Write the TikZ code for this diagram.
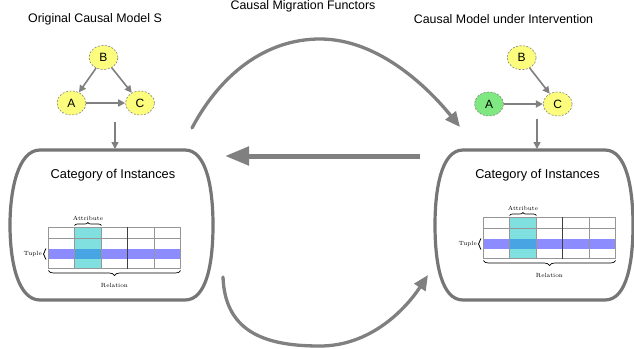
\documentclass[tikz,border=0pt]{standalone}
\usepackage{fontspec}
\newfontfamily\hv{Liberation Sans}
\usetikzlibrary{arrows.meta,decorations.pathreplacing,shapes.geometric}
\definecolor{nodeyellow}{RGB}{252,252,125}
\definecolor{nodegreen}{RGB}{128,232,128}
\definecolor{arrgray}{RGB}{128,128,128}
\definecolor{boxgray}{RGB}{118,118,118}
\definecolor{gridgray}{RGB}{150,150,150}
\definecolor{attrcyan}{RGB}{128,224,224}
\definecolor{tupleblue}{RGB}{140,140,255}
\definecolor{overlapblue}{RGB}{72,164,226}
\tikzset{
  varnode/.style={ellipse,draw=arrgray,dash pattern=on 2pt off 1.5pt,line width=0.6pt,
    minimum width=29pt,minimum height=24pt,inner sep=0pt,font=\hv\fontsize{12}{14}\selectfont},
  edgearrow/.style={draw=arrgray,line width=1.6pt,-{Triangle[length=7pt,width=7pt]}},
  functor/.style={draw=arrgray,line width=3.3pt,line cap=round,-{Triangle[length=15pt,width=13pt]}},
  bigfunctor/.style={draw=arrgray,line width=5pt,-{Triangle[length=24pt,width=18pt]}},
  titletext/.style={font=\hv\fontsize{12.4}{14}\selectfont,inner sep=0pt},
  cattext/.style={font=\hv\fontsize{12.8}{15}\selectfont,inner sep=0pt},
  smalllabel/.style={font=\fontsize{6}{7}\selectfont,inner sep=0pt},
  catbox/.style={draw=boxgray,line width=3.2pt},
  bracestyle/.style={draw=black,line width=0.7pt,decorate,decoration={brace,amplitude=3pt}}
}
\newcommand{\relationtable}[3]{%
  \begin{scope}[shift={(#1,#2)}]
    \fill[attrcyan] (74.3,227.3) rectangle (101.5,268.5);
    \fill[tupleblue] (48.3,248.8) rectangle (180.7,259);
    \fill[overlapblue] (74.3,248.8) rectangle (101.5,259);
    \draw[gridgray,line width=0.6pt] (48.3,227.3) -- (180.7,227.3)
      (48.3,238.3) -- (180.7,238.3) (48.3,268.5) -- (180.7,268.5);
    \foreach \xx in {48.3,74.3,101.5,154.2,180.7}
      \draw[gridgray,line width=0.6pt] (\xx,227.3) -- (\xx,268.5);
    \draw[black!75,line width=0.6pt] (127.7,227.3) -- (127.7,268.5);
    \draw[bracestyle] (74.5,225.5) -- (101.3,225.5);
    \node[smalllabel] (#3attr) at (88,218) {Attribute};
    \draw[bracestyle,decoration={brace,amplitude=2.5pt}] (46,259.5) -- (46,248.5);
    \node[smalllabel,anchor=east] (#3tuple) at (42,254) {Tuple};
    \draw[bracestyle,decoration={brace,amplitude=5pt}] (180.7,270.5) -- (48.3,270.5);
    \node[smalllabel] (#3rel) at (114.5,285) {Relation};
  \end{scope}}
\begin{document}
\begin{tikzpicture}[x=1pt,y=-1pt]
\useasboundingbox[fill=white] (0,0) rectangle (634,348);

% titles
\node[titletext] (tleft) at (95,19) {Original Causal Model S};
\node[titletext] (tmid) at (303,6) {Causal Migration Functors};
\node[titletext] (tright) at (503.5,19) {Causal Model under Intervention};

% left causal model
\node[varnode,fill=nodeyellow] (B1) at (103.5,57.5) {B};
\node[varnode,fill=nodeyellow] (A1) at (71.5,103) {A};
\node[varnode,fill=nodeyellow] (C1) at (140,103) {C};
\draw[edgearrow] (B1) -- (A1);
\draw[edgearrow] (B1) -- (C1);
\draw[edgearrow] (A1) -- (C1);

% right causal model
\node[varnode,fill=nodeyellow] (B2) at (521.7,57.7) {B};
\node[varnode,fill=nodegreen] (A2) at (489,104) {A};
\node[varnode,fill=nodeyellow] (C2) at (557.7,104) {C};
\draw[edgearrow] (B2) -- (C2);
\draw[edgearrow] (A2) -- (C2);

% category boxes
\draw[catbox] (40,150) -- (185,150) .. controls (207,150) and (213,190) .. (213,225)
  .. controls (213,262) and (207,300) .. (185,300) -- (40,300)
  .. controls (18,300) and (10,262) .. (10,225) .. controls (10,190) and (18,150) .. (40,150) -- cycle;
\coordinate (boxLtop) at (115,149);
\draw[catbox] (463,150) -- (605,150) .. controls (627,150) and (633,190) .. (633,225)
  .. controls (633,262) and (627,300) .. (605,300) -- (463,300)
  .. controls (441,300) and (435,262) .. (435,225) .. controls (435,190) and (441,150) .. (463,150) -- cycle;
\coordinate (boxRtop) at (537,149);

\node[cattext] (catL) at (113,175) {Category of Instances};
\node[cattext] (catR) at (537.5,175) {Category of Instances};

% down arrows
\coordinate (dl0) at (115,122);
\draw[edgearrow] (dl0) -- (boxLtop);
\coordinate (dr0) at (537,119);
\draw[edgearrow] (dr0) -- (boxRtop);

% tables
\relationtable{0}{0}{L}
\relationtable{435}{-10}{R}

% functors
\coordinate (fTs) at (192,128);
\coordinate (fTm) at (320,39);
\coordinate (fTe) at (460,127);
\draw[functor] (fTs) .. controls (220,75) and (265,39) .. (fTm)
  .. controls (380,39) and (430,90) .. (fTe);
\coordinate (fMs) at (420,156);
\coordinate (fMe) at (225,156);
\draw[bigfunctor] (fMs) -- (fMe);
\coordinate (fBs) at (223,277);
\coordinate (fBm) at (320,346);
\coordinate (fBe) at (428,275);
\draw[functor] (fBs) .. controls (225,335) and (270,346) .. (fBm)
  .. controls (370,346) and (405,310) .. (fBe);
\end{tikzpicture}
\end{document}
